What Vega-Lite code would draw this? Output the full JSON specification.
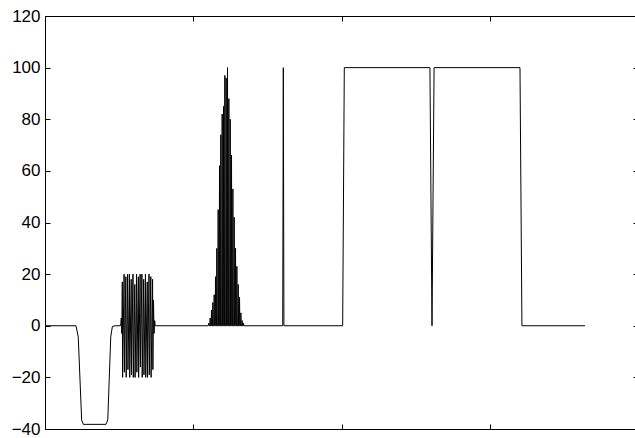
{
  "$schema": "https://vega.github.io/schema/vega-lite/v6.json",
  "width": 590,
  "height": 413,
  "autosize": "none",
  "padding": {"left": 45, "top": 16, "right": 0, "bottom": 9},
  "background": "white",
  "config": {
    "view": {"stroke": null},
    "axis": {"grid": false, "domainColor": "#000", "domainWidth": 1, "tickColor": "#000", "tickWidth": 1, "labelColor": "#000", "labelFont": "Liberation Sans", "labelFontSize": 17, "title": null}
  },
  "data": {"values": [
    {"t": 0, "v": 0}, {"t": 20.9, "v": 0}, {"t": 22.4, "v": -4.3}, {"t": 24.7, "v": -36.5}, {"t": 25.8, "v": -38.2},
    {"t": 41.1, "v": -38.2}, {"t": 42.3, "v": -36.5}, {"t": 44.3, "v": -4.3}, {"t": 45.4, "v": -0.3}, {"t": 47.2, "v": 0},
    {"t": 51.0, "v": 0}, {"t": 51.4, "v": 3}, {"t": 51.8, "v": -3}, {"t": 52.1, "v": 17}, {"t": 52.3, "v": -20}, {"t": 53.3, "v": 20},
    {"t": 53.5, "v": -18}, {"t": 54.5, "v": 19}, {"t": 54.7, "v": -20}, {"t": 55.7, "v": 20}, {"t": 55.9, "v": -17}, {"t": 56.9, "v": 20},
    {"t": 57.1, "v": -20}, {"t": 58.1, "v": 18}, {"t": 58.3, "v": -19}, {"t": 59.3, "v": 20}, {"t": 59.5, "v": -20}, {"t": 60.5, "v": 16},
    {"t": 60.7, "v": -20}, {"t": 61.7, "v": 20}, {"t": 61.9, "v": -18}, {"t": 62.9, "v": 19}, {"t": 63.1, "v": -20}, {"t": 64.1, "v": 20},
    {"t": 64.3, "v": -16}, {"t": 65.3, "v": 20}, {"t": 65.5, "v": -20}, {"t": 66.5, "v": 18}, {"t": 66.7, "v": -19}, {"t": 67.7, "v": 20},
    {"t": 67.9, "v": -20}, {"t": 68.9, "v": 17}, {"t": 69.1, "v": -20}, {"t": 70.1, "v": 20}, {"t": 70.3, "v": -19}, {"t": 71.3, "v": 19},
    {"t": 71.5, "v": -20}, {"t": 72.5, "v": 18}, {"t": 72.7, "v": -17}, {"t": 73.1, "v": 10}, {"t": 73.5, "v": -3}, {"t": 73.9, "v": 2},
    {"t": 74.3, "v": 0},
    {"t": 109.9, "v": 0}, {"t": 110.4, "v": 1}, {"t": 110.6, "v": 0}, {"t": 111.1, "v": 0}, {"t": 111.3, "v": 3}, {"t": 111.5, "v": 0},
    {"t": 112.0, "v": 0}, {"t": 112.2, "v": 6}, {"t": 112.4, "v": 0}, {"t": 112.9, "v": 0}, {"t": 113.1, "v": 9}, {"t": 113.3, "v": 0},
    {"t": 113.8, "v": 0}, {"t": 114.0, "v": 12}, {"t": 114.2, "v": 0}, {"t": 114.7, "v": 0}, {"t": 114.9, "v": 19}, {"t": 115.1, "v": 0},
    {"t": 115.6, "v": 0}, {"t": 115.8, "v": 30}, {"t": 116.0, "v": 0}, {"t": 116.5, "v": 0}, {"t": 116.7, "v": 45}, {"t": 116.9, "v": 0},
    {"t": 117.4, "v": 0}, {"t": 117.6, "v": 62}, {"t": 117.8, "v": 0}, {"t": 118.3, "v": 0}, {"t": 118.5, "v": 74}, {"t": 118.7, "v": 0},
    {"t": 119.2, "v": 0}, {"t": 119.4, "v": 82}, {"t": 119.6, "v": 0}, {"t": 120.1, "v": 0}, {"t": 120.3, "v": 85}, {"t": 120.5, "v": 0},
    {"t": 121.0, "v": 0}, {"t": 121.2, "v": 97}, {"t": 121.4, "v": 0}, {"t": 121.9, "v": 0}, {"t": 122.1, "v": 96}, {"t": 122.3, "v": 0},
    {"t": 122.8, "v": 0}, {"t": 123.0, "v": 100}, {"t": 123.2, "v": 0}, {"t": 123.7, "v": 0}, {"t": 123.9, "v": 88}, {"t": 124.1, "v": 0},
    {"t": 124.6, "v": 0}, {"t": 124.8, "v": 80}, {"t": 125.0, "v": 0}, {"t": 125.5, "v": 0}, {"t": 125.7, "v": 66}, {"t": 125.9, "v": 0},
    {"t": 126.4, "v": 0}, {"t": 126.6, "v": 53}, {"t": 126.8, "v": 0}, {"t": 127.3, "v": 0}, {"t": 127.5, "v": 42}, {"t": 127.7, "v": 0},
    {"t": 128.2, "v": 0}, {"t": 128.4, "v": 30}, {"t": 128.6, "v": 0}, {"t": 129.1, "v": 0}, {"t": 129.3, "v": 23}, {"t": 129.5, "v": 0},
    {"t": 130.0, "v": 0}, {"t": 130.2, "v": 16}, {"t": 130.4, "v": 0}, {"t": 130.9, "v": 0}, {"t": 131.1, "v": 11}, {"t": 131.3, "v": 0},
    {"t": 131.8, "v": 0}, {"t": 132.0, "v": 5}, {"t": 132.2, "v": 0}, {"t": 132.7, "v": 0}, {"t": 132.9, "v": 2}, {"t": 133.1, "v": 0},
    {"t": 133.6, "v": 0}, {"t": 133.8, "v": 1}, {"t": 134.0, "v": 0},
    {"t": 160.2, "v": 0}, {"t": 160.6, "v": 100}, {"t": 161.0, "v": 0},
    {"t": 200.6, "v": 0}, {"t": 201.7, "v": 100}, {"t": 259.4, "v": 100}, {"t": 260.8, "v": 0}, {"t": 262.2, "v": 100},
    {"t": 320.1, "v": 100}, {"t": 321.4, "v": 0}, {"t": 363.9, "v": 0}
  ]},
  "layer": [
    {
      "mark": {"type": "line", "color": "#000", "strokeWidth": 1},
      "encoding": {
        "x": {"field": "t", "type": "quantitative", "scale": {"domain": [0, 397.6], "nice": false, "zero": false},
              "axis": {"orient": "bottom", "values": [0, 100, 200, 300], "labels": false, "tickSize": -5}},
        "y": {"field": "v", "type": "quantitative", "scale": {"domain": [-40, 120], "nice": false},
              "axis": {"orient": "left", "values": [-40, -20, 0, 20, 40, 60, 80, 100, 120], "tickSize": -5, "labelPadding": 10}}
      }
    },
    {
      "mark": {"type": "point", "opacity": 0},
      "encoding": {
        "x": {"field": "t", "type": "quantitative", "scale": {"domain": [0, 397.6], "nice": false, "zero": false},
              "axis": {"orient": "top", "values": [0, 100, 200, 300], "labels": false, "tickSize": -5}},
        "y": {"field": "v", "type": "quantitative", "scale": {"domain": [-40, 120], "nice": false},
              "axis": {"orient": "right", "values": [-40, -20, 0, 20, 40, 60, 80, 100, 120], "labels": false, "domain": false, "tickSize": -2}}
      }
    }
  ],
  "resolve": {"axis": {"x": "independent", "y": "independent"}}
}
